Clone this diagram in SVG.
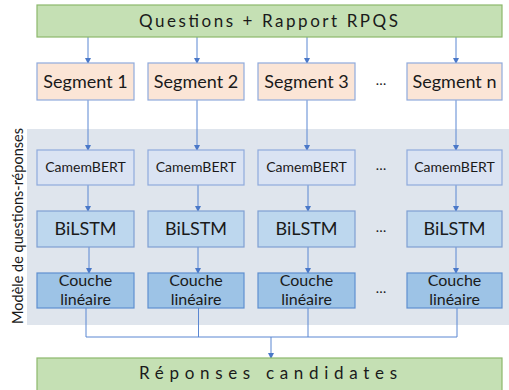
<svg xmlns="http://www.w3.org/2000/svg" width="509" height="390" viewBox="0 0 509 390">
<style>
text{font-family:Lato,"Liberation Sans",sans-serif;fill:#1a1a1a;text-anchor:middle}
.title{font-size:17px}
.seg rect{fill:#fbe5d6;stroke:#8faadc;stroke-width:1.2}
.cam rect{fill:#dae3f3;stroke:#8faadc;stroke-width:1.2}
.bil rect{fill:#bdd7ee;stroke:#7f9fd2;stroke-width:1.2}
.lin rect{fill:#9dc3e6;stroke:#5f8fd0;stroke-width:1.2}
.green{fill:#c5e0b4;stroke:#8cb86c;stroke-width:1.2}
.seg text{font-size:18px}
.cam text{font-size:14px}
.bil text{font-size:18px}
.lin text{font-size:16px}
.dots{font-size:14px}
#connectors path{fill:none;stroke:#5b87d2;stroke-width:1}
</style>
<defs>
<marker id="ah" markerWidth="6" markerHeight="6" refX="5" refY="3" orient="auto" markerUnits="userSpaceOnUse">
<path d="M0,0 L6,3 L0,6 Z" fill="#4a78c8"/>
</marker>
</defs>
<rect x="0" y="0" width="509" height="390" fill="#ffffff"/>
<rect id="panel" x="27" y="129" width="482" height="196" fill="#dfe5ed"/>
<text transform="translate(23,226) rotate(-90)" font-size="14.5">Modèle de questions-réponses</text>

<g id="connectors">
<path d="M88,37 V63" marker-end="url(#ah)"/>
<path d="M197,37 V63" marker-end="url(#ah)"/>
<path d="M307,37 V63" marker-end="url(#ah)"/>
<path d="M456,37 V63" marker-end="url(#ah)"/>
<path d="M88,100 V150" marker-end="url(#ah)"/>
<path d="M197,100 V150" marker-end="url(#ah)"/>
<path d="M307,100 V150" marker-end="url(#ah)"/>
<path d="M456,100 V150" marker-end="url(#ah)"/>
<path d="M88,185 V211" marker-end="url(#ah)"/>
<path d="M198,185 V211" marker-end="url(#ah)"/>
<path d="M308,185 V211" marker-end="url(#ah)"/>
<path d="M456,185 V211" marker-end="url(#ah)"/>
<path d="M89,247 V273" marker-end="url(#ah)"/>
<path d="M198,247 V273" marker-end="url(#ah)"/>
<path d="M308,247 V273" marker-end="url(#ah)"/>
<path d="M456,247 V273" marker-end="url(#ah)"/>
<path d="M86,308 V337 H457 V308"/>
<path d="M198.5,308 V337"/>
<path d="M308,308 V337"/>
<path d="M271,337 V358" marker-end="url(#ah)"/>
</g>

<g id="top">
<rect class="green" x="37" y="5" width="465" height="32"/>
<text class="title" x="268.5" y="27" textLength="259">Questions + Rapport RPQS</text>
</g>

<g id="seg1" class="seg"><rect x="37" y="63" width="97" height="37"/><text x="85.5" y="88">Segment 1</text></g>
<g id="seg2" class="seg"><rect x="148" y="63" width="96" height="37"/><text x="196" y="88">Segment 2</text></g>
<g id="seg3" class="seg"><rect x="258" y="63" width="97" height="37"/><text x="306.5" y="88">Segment 3</text></g>
<g id="segn" class="seg"><rect x="407" y="63" width="95" height="37"/><text x="454.5" y="88">Segment n</text></g>

<g id="cam1" class="cam"><rect x="37" y="150" width="97" height="35"/><text x="85.5" y="172">CamemBERT</text></g>
<g id="cam2" class="cam"><rect x="148" y="150" width="96" height="35"/><text x="196" y="172">CamemBERT</text></g>
<g id="cam3" class="cam"><rect x="258" y="150" width="97" height="35"/><text x="306.5" y="172">CamemBERT</text></g>
<g id="camn" class="cam"><rect x="407" y="150" width="95" height="35"/><text x="454.5" y="172">CamemBERT</text></g>

<g id="bil1" class="bil"><rect x="37" y="211" width="97" height="36"/><text x="85.5" y="235">BiLSTM</text></g>
<g id="bil2" class="bil"><rect x="148" y="211" width="96" height="36"/><text x="196" y="235">BiLSTM</text></g>
<g id="bil3" class="bil"><rect x="258" y="211" width="97" height="36"/><text x="306.5" y="235">BiLSTM</text></g>
<g id="biln" class="bil"><rect x="407" y="211" width="95" height="36"/><text x="454.5" y="235">BiLSTM</text></g>

<g id="lin1" class="lin"><rect x="37" y="273" width="97" height="35"/><text x="85.5" y="286">Couche</text><text x="85.5" y="305">linéaire</text></g>
<g id="lin2" class="lin"><rect x="148" y="273" width="96" height="35"/><text x="196" y="286">Couche</text><text x="196" y="305">linéaire</text></g>
<g id="lin3" class="lin"><rect x="258" y="273" width="97" height="35"/><text x="306.5" y="286">Couche</text><text x="306.5" y="305">linéaire</text></g>
<g id="linn" class="lin"><rect x="407" y="273" width="95" height="35"/><text x="454.5" y="286">Couche</text><text x="454.5" y="305">linéaire</text></g>

<g id="ellipses">
<text class="dots" x="381" y="85">…</text>
<text class="dots" x="381" y="170">…</text>
<text class="dots" x="381" y="232">…</text>
<text class="dots" x="381" y="293">…</text>
</g>

<g id="bottom">
<rect class="green" x="37" y="358" width="465" height="40"/>
<text class="title" x="268" y="379" textLength="258">Réponses candidates</text>
</g>
</svg>
